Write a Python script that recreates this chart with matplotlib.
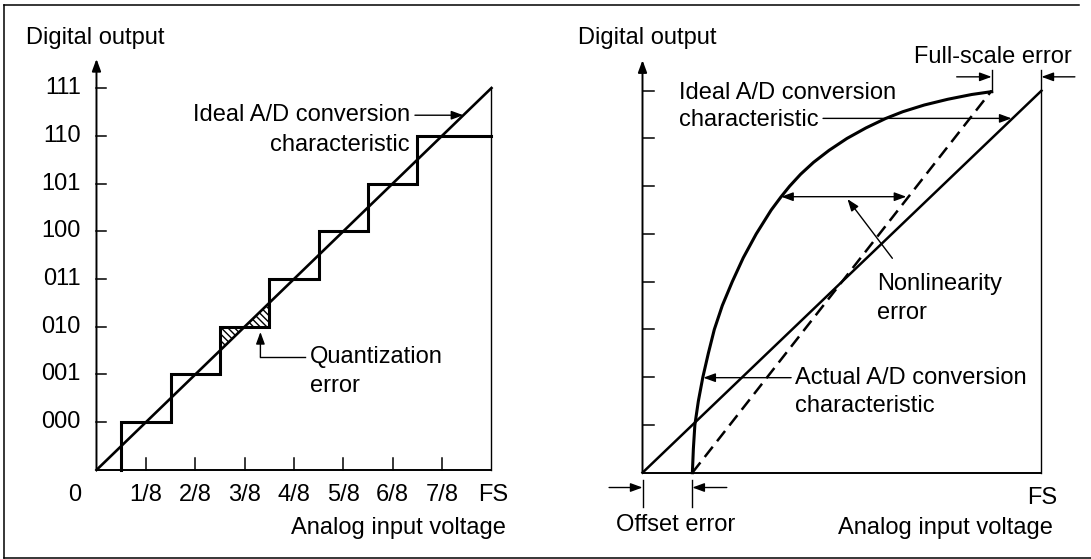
import matplotlib
matplotlib.use('Agg')
import matplotlib.pyplot as plt
from matplotlib.lines import Line2D
import numpy as np

plt.rcParams['font.family'] = ['Liberation Sans', 'DejaVu Sans']
FS_TXT = 17

# ---- data (left panel) ----
codes = ['000', '001', '010', '011', '100', '101', '110', '111']
code_levels = [1, 2, 3, 4, 5, 6, 7, 8]
x_fracs = ['1/8', '2/8', '3/8', '4/8', '5/8', '6/8', '7/8']
x_frac_pos = [1, 2, 3, 4, 5, 6, 7]
step_edges = [0.5, 0.5, 1.5, 2.5, 3.5, 4.5, 5.5, 6.5, 8.0]
step_levels = [0, 1, 2, 3, 4, 5, 6, 7, 7]
ideal_x = [0, 8]
ideal_y = [0, 8]
quant_tri_a_x = [2.5, 2.5, 3.0]
quant_tri_a_y = [2.5, 3.0, 3.0]
quant_tri_b_x = [3.0, 3.5, 3.5]
quant_tri_b_y = [3.0, 3.0, 3.5]

# ---- data (right panel) ----
actual_x = [1.00, 1.02, 1.05, 1.12, 1.21, 1.32, 1.44, 1.60, 1.80, 2.02, 2.28,
            2.58, 2.78, 2.95, 3.17, 3.43, 3.74, 4.10, 4.48, 4.88, 5.22, 5.65,
            6.12, 6.60, 7.00]
actual_y = [0.0, 0.5, 1.0, 1.5, 2.0, 2.5, 3.0, 3.5, 4.0, 4.5, 5.0,
            5.5, 5.78, 6.0, 6.25, 6.5, 6.75, 7.0, 7.22, 7.42, 7.56, 7.70,
            7.82, 7.92, 7.98]
dash_x = [1, 7]
dash_y = [0, 8]


def arrow(ax, start, end, lw=1.0, style='-|>'):
    ax.annotate('', xy=end, xytext=start,
                arrowprops=dict(arrowstyle=style + ',head_length=0.6,head_width=0.22',
                                mutation_scale=12, lw=lw, color='k',
                                shrinkA=0, shrinkB=0))


def txt(ax, x, y, s, ha='left'):
    ax.text(x, y, s, fontsize=FS_TXT, ha=ha, va='center', color='k')


fig = plt.figure(figsize=(10.91, 5.59), dpi=100)
ax1 = fig.add_axes([0, 0, 545 / 1091, 1])
ax2 = fig.add_axes([545 / 1091, 0, 546 / 1091, 1])
ax1.set_xlim(-1.954, 9.084)
ax1.set_ylim(-1.864, 9.843)
ax2.set_xlim(-1.955, 8.993)
ax2.set_ylim(-1.807, 9.899)
for ax in (ax1, ax2):
    ax.axis('off')

# ================= left panel =================
arrow(ax1, (0, 0), (0, 8.61), lw=1.4)
ax1.plot([0, 8], [0, 0], color='k', lw=1.4, solid_capstyle='butt')
ax1.plot([8, 8], [0, 8], color='k', lw=1.0)
for lv, c in zip(code_levels, codes):
    ax1.plot([0, 0.2], [lv, lv], color='k', lw=1.1)
    txt(ax1, -0.32, lv, c, ha='right')
for xp, lab in zip(x_frac_pos, x_fracs):
    ax1.plot([xp, xp], [0, 0.25], color='k', lw=1.1)
    txt(ax1, xp, -0.52, lab, ha='center')
txt(ax1, -0.44, -0.52, '0', ha='center')
txt(ax1, 8.04, -0.52, 'FS', ha='center')
txt(ax1, 8.29, -1.21, 'Analog input voltage', ha='right')
txt(ax1, -1.43, 9.05, 'Digital output')

ax1.fill(quant_tri_a_x, quant_tri_a_y, facecolor='white', edgecolor='k',
         hatch='\\\\\\\\\\', lw=0)
ax1.fill(quant_tri_b_x, quant_tri_b_y, facecolor='white', edgecolor='k',
         hatch='\\\\\\\\\\', lw=0)
ax1.step(step_edges, step_levels, where='post', color='k', lw=2.2,
         solid_joinstyle='miter')
ax1.plot(ideal_x, ideal_y, color='k', lw=1.9)

txt(ax1, 6.35, 7.43, 'Ideal A/D conversion', ha='right')
txt(ax1, 6.35, 6.81, 'characteristic', ha='right')
arrow(ax1, (6.45, 7.43), (7.43, 7.43))

ax1.plot([4.22, 3.32], [2.37, 2.37], color='k', lw=1.0)
arrow(ax1, (3.32, 2.37), (3.32, 2.89))
txt(ax1, 4.32, 2.37, 'Quantization')
txt(ax1, 4.32, 1.76, 'error')

# ================= right panel =================
arrow(ax2, (0, 0), (0, 8.64), lw=1.4)
ax2.plot([0, 8], [0, 0], color='k', lw=1.4, solid_capstyle='butt')
ax2.plot([8, 8], [0, 8.43], color='k', lw=1.0)
for lv in code_levels:
    ax2.plot([0, 0.24], [lv, lv], color='k', lw=1.1)

ax2.plot(ideal_x, ideal_y, color='k', lw=1.8)
ax2.plot(dash_x, dash_y, color='k', lw=1.8, dashes=(5.2, 2.8))
ax2.plot(actual_x, actual_y, color='k', lw=2.2, solid_joinstyle='round')

txt(ax2, -1.29, 9.10, 'Digital output')
txt(ax2, 8.01, -0.52, 'FS', ha='center')
txt(ax2, 8.22, -1.16, 'Analog input voltage', ha='right')

# full-scale error
txt(ax2, 5.45, 8.71, 'Full-scale error')
ax2.plot([7.0, 7.0], [7.98, 8.43], color='k', lw=1.0)
arrow(ax2, (6.30, 8.29), (7.0, 8.29))
arrow(ax2, (8.67, 8.29), (8.0, 8.29))

# ideal label
txt(ax2, 0.73, 7.95, 'Ideal A/D conversion')
txt(ax2, 0.73, 7.38, 'characteristic')
arrow(ax2, (3.62, 7.42), (7.40, 7.42))

# nonlinearity
arrow(ax2, (2.78, 5.78), (5.29, 5.78), style='<|-|>')
arrow(ax2, (5.01, 4.49), (4.11, 5.73))
txt(ax2, 4.70, 3.95, 'Nonlinearity')
txt(ax2, 4.70, 3.34, 'error')

# actual label
txt(ax2, 3.05, 1.99, 'Actual A/D conversion')
txt(ax2, 3.05, 1.40, 'characteristic')
arrow(ax2, (2.98, 1.99), (1.22, 1.99))

# offset error
ax2.plot([0, 0], [-0.15, -0.71], color='k', lw=1.0)
ax2.plot([1.0, 1.0], [-0.15, -0.71], color='k', lw=1.0)
arrow(ax2, (-0.67, -0.31), (0, -0.31))
arrow(ax2, (1.69, -0.31), (1.0, -0.31))
txt(ax2, -0.53, -1.10, 'Offset error')

# frame
W, H = 1091, 559
fig.add_artist(Line2D([4 / W, 1079 / W], [1 - 5 / H, 1 - 5 / H],
                      transform=fig.transFigure, color='k', lw=1.1))
fig.add_artist(Line2D([4 / W, 4 / W], [1 - 5 / H, 1 - 557.5 / H],
                      transform=fig.transFigure, color='k', lw=1.1))
fig.add_artist(Line2D([4 / W, 1.0], [1 - 557.5 / H, 1 - 557.5 / H],
                      transform=fig.transFigure, color='k', lw=1.1))

fig.savefig('out.png', dpi=100)
